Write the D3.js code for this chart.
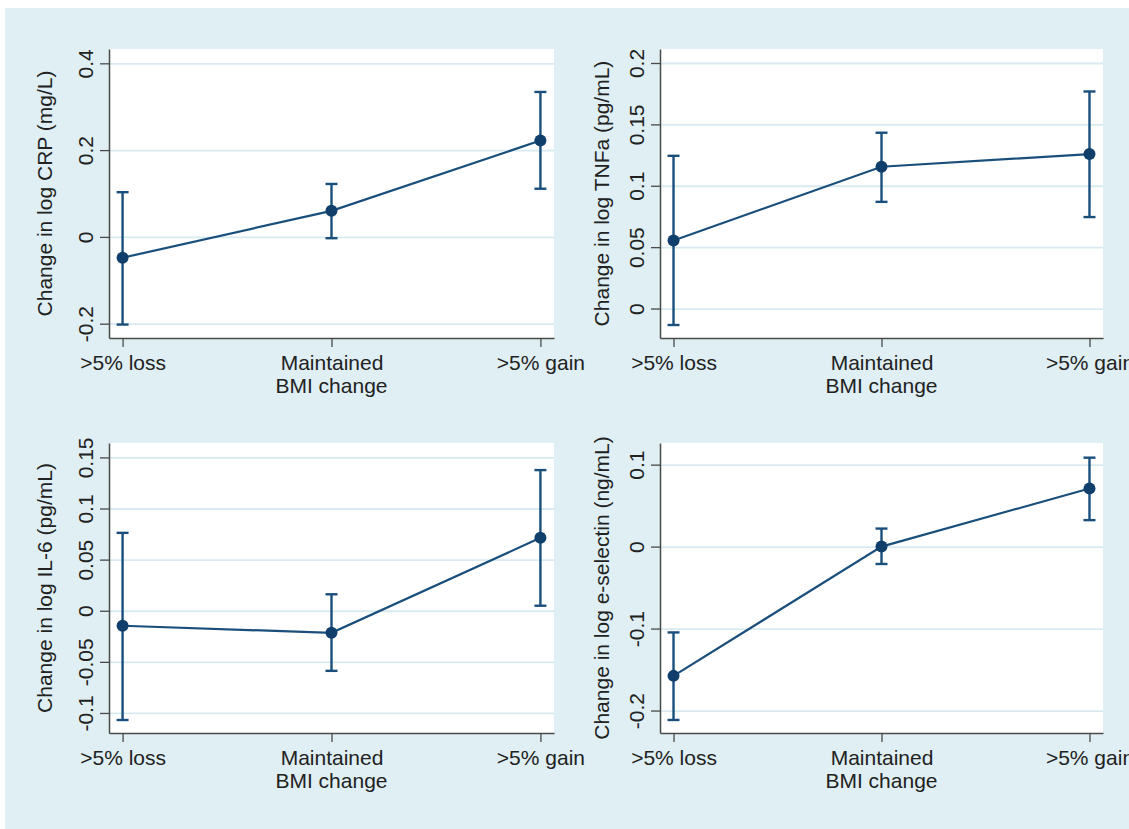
<!DOCTYPE html>
<html>
<head>
<meta charset="utf-8">
<script src="https://cdn.jsdelivr.net/npm/d3@7"></script>
<style>
  body { margin: 0; background: #fff; }
  svg text { font-family: "Liberation Sans", Arial, Helvetica, sans-serif; fill: #222; }
</style>
</head>
<body>
<div id="chart"></div>
<script>
// categories on the x axis
var categories = [">5% loss", "Maintained", ">5% gain"];
var xTitle = "BMI change";

// y axis titles, one per panel
var yTitles = [
  "Change in log CRP (mg/L)",
  "Change in log TNFa (pg/mL)",
  "Change in log IL-6 (pg/mL)",
  "Change in log e-selectin (ng/mL)"
];

// estimates and confidence limits
var crpMean = [-0.048, 0.060, 0.222];
var crpLow  = [-0.202, -0.003, 0.111];
var crpHigh = [0.103, 0.122, 0.334];

var tnfMean = [0.0554, 0.1155, 0.1258];
var tnfLow  = [-0.0134, 0.0869, 0.0745];
var tnfHigh = [0.1244, 0.1432, 0.1768];

var il6Mean = [-0.0147, -0.0216, 0.0713];
var il6Low  = [-0.1069, -0.0588, 0.0049];
var il6High = [0.0762, 0.0161, 0.1376];

var eselMean = [-0.1577, 0.0, 0.0709];
var eselLow  = [-0.2115, -0.0212, 0.0323];
var eselHigh = [-0.1047, 0.022, 0.1085];

// tick values and labels per panel
var crpTicks  = [-0.2, 0, 0.2, 0.4];
var crpLabels = ["-0.2", "0", "0.2", "0.4"];
var tnfTicks  = [0, 0.05, 0.1, 0.15, 0.2];
var tnfLabels = ["0", "0.05", "0.1", "0.15", "0.2"];
var il6Ticks  = [-0.1, -0.05, 0, 0.05, 0.1, 0.15];
var il6Labels = ["-0.1", "-0.05", "0", "0.05", "0.1", "0.15"];
var eselTicks  = [-0.2, -0.1, 0, 0.1];
var eselLabels = ["-0.2", "-0.1", "0", "0.1"];

// y ranges shown by each panel
var yDomains = [[-0.233, 0.433], [-0.024, 0.2114], [-0.1196, 0.1641], [-0.2274, 0.1264]];

var panels = [
  { mean: crpMean,  low: crpLow,  high: crpHigh,  ticks: crpTicks,  labels: crpLabels },
  { mean: tnfMean,  low: tnfLow,  high: tnfHigh,  ticks: tnfTicks,  labels: tnfLabels },
  { mean: il6Mean,  low: il6Low,  high: il6High,  ticks: il6Ticks,  labels: il6Labels },
  { mean: eselMean, low: eselLow, high: eselHigh, ticks: eselTicks, labels: eselLabels }
];

// layout of the plot regions
var cols = [ { left: 109, right: 554, titleOff: 57 }, { left: 660, right: 1103, titleOff: 51 } ];
var rows = [ { top: 49, bottom: 338 }, { top: 443, bottom: 733 } ];

var W = 1129, H = 829;
var navy = "#1a4f7c", dotCol = "#0f3f6a";

var svg = d3.select("#chart").append("svg")
  .attr("width", W)
  .attr("height", H);

svg.append("rect")
  .attr("x", 5).attr("y", 8)
  .attr("width", W - 5).attr("height", H - 8)
  .attr("fill", "#dfeff3");

panels.forEach(function(p, i){
  var c = cols[i % 2], r = rows[Math.floor(i / 2)];
  var w = c.right - c.left, h = r.bottom - r.top;

  var g = svg.append("g").attr("transform", "translate(" + c.left + "," + r.top + ")");

  g.append("rect").attr("width", w).attr("height", h).attr("fill", "#fff");

  var x = d3.scalePoint().domain(categories).range([0, w]).padding(0.065);
  var y = d3.scaleLinear().domain(yDomains[i]).range([h, 0]);

  // grid lines
  g.append("g")
    .call(d3.axisLeft(y).tickValues(p.ticks).tickSize(-w).tickFormat(""))
    .call(function(s){
      s.select(".domain").remove();
      s.selectAll("line").attr("stroke", "#d8eaf0").attr("stroke-width", 1.8);
    });

  // y axis
  var ya = g.append("g")
    .call(d3.axisLeft(y).tickValues(p.ticks).tickSize(9).tickSizeOuter(0)
      .tickFormat(function(d, k){ return p.labels[k]; }));
  ya.select(".domain").attr("stroke", "#4a4a4a").attr("stroke-width", 1.5);
  ya.selectAll(".tick line").attr("stroke", "#4a4a4a").attr("stroke-width", 1.3);
  ya.selectAll(".tick text")
    .attr("x", null).attr("dy", null)
    .attr("text-anchor", "middle")
    .attr("transform", "translate(-16,0) rotate(-90)")
    .attr("font-size", 21);

  // x axis
  var xa = g.append("g")
    .attr("transform", "translate(0," + h + ")")
    .call(d3.axisBottom(x).tickSize(9).tickSizeOuter(0));
  xa.select(".domain").attr("stroke", "#4a4a4a").attr("stroke-width", 1.5);
  xa.selectAll(".tick line").attr("stroke", "#4a4a4a").attr("stroke-width", 1.3);
  xa.selectAll(".tick text")
    .attr("y", 32).attr("dy", null)
    .attr("font-size", 21);

  g.append("text")
    .attr("x", w / 2).attr("y", h + 55)
    .attr("text-anchor", "middle")
    .attr("font-size", 21)
    .text(xTitle);

  g.append("text")
    .attr("transform", "translate(" + (-c.titleOff) + "," + (h / 2) + ") rotate(-90)")
    .attr("text-anchor", "middle")
    .attr("font-size", 21)
    .text(yTitles[i]);

  // connecting line
  var line = d3.line()
    .x(function(d, k){ return x(categories[k]); })
    .y(function(d){ return y(d); });
  g.append("path")
    .datum(p.mean)
    .attr("d", line)
    .attr("fill", "none")
    .attr("stroke", navy)
    .attr("stroke-width", 2.2);

  // error bars
  var bars = g.selectAll(".err")
    .data(categories)
    .enter()
    .append("g").attr("class", "err");
  bars.append("line")
    .attr("x1", function(d){ return x(d); }).attr("x2", function(d){ return x(d); })
    .attr("y1", function(d, k){ return y(p.low[k]); })
    .attr("y2", function(d, k){ return y(p.high[k]); })
    .attr("stroke", navy).attr("stroke-width", 2.4);
  bars.append("line")
    .attr("x1", function(d){ return x(d) - 6; }).attr("x2", function(d){ return x(d) + 6; })
    .attr("y1", function(d, k){ return y(p.low[k]); })
    .attr("y2", function(d, k){ return y(p.low[k]); })
    .attr("stroke", navy).attr("stroke-width", 2.4);
  bars.append("line")
    .attr("x1", function(d){ return x(d) - 6; }).attr("x2", function(d){ return x(d) + 6; })
    .attr("y1", function(d, k){ return y(p.high[k]); })
    .attr("y2", function(d, k){ return y(p.high[k]); })
    .attr("stroke", navy).attr("stroke-width", 2.4);

  // points
  g.selectAll("circle")
    .data(p.mean)
    .enter()
    .append("circle")
    .attr("cx", function(d, k){ return x(categories[k]); })
    .attr("cy", function(d){ return y(d); })
    .attr("r", 6)
    .attr("fill", dotCol);
});
</script>
</body>
</html>
